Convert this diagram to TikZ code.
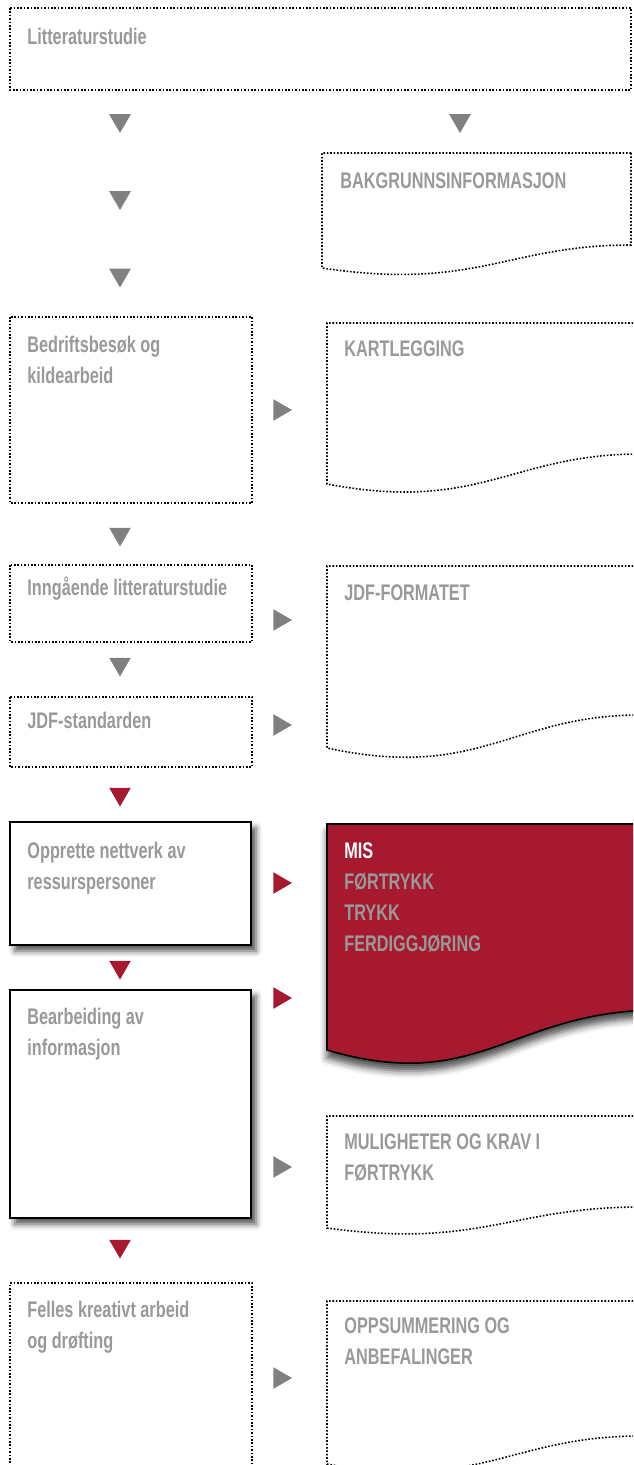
\documentclass[tikz,border=0pt]{standalone}
\usepackage{fontspec}
\usepackage{tikz}
\usetikzlibrary{shapes.geometric,shadows.blur}
\newfontfamily\dinfont{Liberation Sans}[FakeStretch=0.72]
\definecolor{dinred}{RGB}{166,25,46}
\definecolor{txtgray}{RGB}{153,153,153}
\definecolor{trigray}{RGB}{128,128,128}

\begin{document}
\begin{tikzpicture}[x=0.5pt, y=-0.5pt,
	dotline/.style = {line width=0.8pt, dash pattern=on 0.8pt off 0.9pt},
	solidbox/.style = {line width=1pt, fill=white, blur shadow={shadow xshift=2.5pt, shadow yshift=-3pt, shadow blur radius=3pt, shadow opacity=70}},
	txt/.style = {anchor=north west, inner sep=0pt, align=left, text=txtgray, font=\dinfont\bfseries\fontsize{11.3}{15.5}\selectfont},
	tri/.style = {regular polygon, regular polygon sides=3, minimum size=12.5pt, inner sep=0pt, draw=none},
	downtri/.style = {tri, shape border rotate=180, fill=#1},
	righttri/.style = {tri, shape border rotate=-90, fill=#1}]
							\useasboundingbox (0, 0) rectangle (633, 1465);
							\clip (0, 0) rectangle (633, 1465);
							% left column boxes
							\draw[dotline] (10, 8) rectangle (631, 90);
							\draw[dotline] (10, 317) rectangle (252, 503);
							\draw[dotline] (10, 565) rectangle (252, 642);
							\draw[dotline] (10, 697) rectangle (252, 767);
							\draw[solidbox] (10, 822) rectangle (251, 945);
							\draw[solidbox] (10, 990) rectangle (251, 1218);
							\draw[dotline] (10, 1480) -- (10, 1283) -- (252, 1283) -- (252, 1480);
							% right column documents
							\draw[dotline] (631, 153) -- (322, 153) -- (322, 268) .. controls (476, 291) and (507, 245) .. (631, 245) -- cycle;
							\draw[dotline] (640, 323) -- (327, 323) -- (327, 484) .. controls (480, 513) and (511, 454) .. (640, 454);
							\draw[dotline] (640, 566) -- (327, 566) -- (327, 748) .. controls (480, 781) and (511, 715) .. (640, 715);
							\draw[line width=0.8pt, fill=dinred, blur shadow={shadow xshift=0pt, shadow yshift=-4pt, shadow blur radius=3.5pt, shadow opacity=70}] (660, 824) -- (327, 824) -- (327, 1050) .. controls (480, 1095) and (511, 1010) .. (660, 1010) -- cycle;
							\draw[dotline] (640, 1116) -- (327, 1116) -- (327, 1228) .. controls (480, 1249) and (511, 1207) .. (640, 1207);
							\draw[dotline] (640, 1301) -- (327, 1301) -- (327, 1464) .. controls (480, 1492) and (511, 1436) .. (640, 1436);
							% texts
							\node[txt] (lit) at (27, 22) {\strut Litteraturstudie};
							\node[txt] (bakgrunn) at (340, 166) {\strut BAKGRUNNSINFORMASJON};
							\node[txt] (bedrift) at (27, 330) {\strut Bedriftsbesøk og\\kildearbeid};
							\node[txt] (kart) at (344, 334) {\strut KARTLEGGING};
							\node[txt] (inng) at (27, 573) {\strut Inngående litteraturstudie};
							\node[txt] (jdfformat) at (344, 578) {\strut JDF-FORMATET};
							\node[txt] (jdfstd) at (27, 706) {\strut JDF-standarden};
							\node[txt] (opprette) at (27, 836) {\strut Opprette nettverk av\\ressurspersoner};
							\node[txt] (mis) at (344, 836) {\strut\textcolor{white}{MIS}\\FØRTRYKK\\TRYKK\\FERDIGGJØRING};
							\node[txt] (bearb) at (27, 1002) {\strut Bearbeiding av\\informasjon};
							\node[txt] (mulig) at (344, 1127) {\strut MULIGHETER OG KRAV I\\FØRTRYKK};
							\node[txt] (felles) at (27, 1295) {\strut Felles kreativt arbeid\\og drøfting};
							\node[txt] (oppsum) at (344, 1311) {\strut OPPSUMMERING OG\\ANBEFALINGER};
							% triangles
							\node[downtri=trigray] (gd0) at (460, 120.5) {};
							\foreach \y [count = \i] in {120.5, 197.5, 275, 534, 664}
								\node[downtri=trigray] (gd\i) at (120, \y) {};
							\foreach \y [count = \i] in {794, 967, 1246}
								\node[downtri=dinred] (rd\i) at (120, \y) {};
							\foreach \y [count = \i] in {410, 620, 725, 1167, 1378}
								\node[righttri=trigray] (gr\i) at (279.5, \y) {};
							\foreach \y [count = \i] in {883, 998}
								\node[righttri=dinred] (rr\i) at (279.5, \y) {};
						\end{tikzpicture}
\end{document}
